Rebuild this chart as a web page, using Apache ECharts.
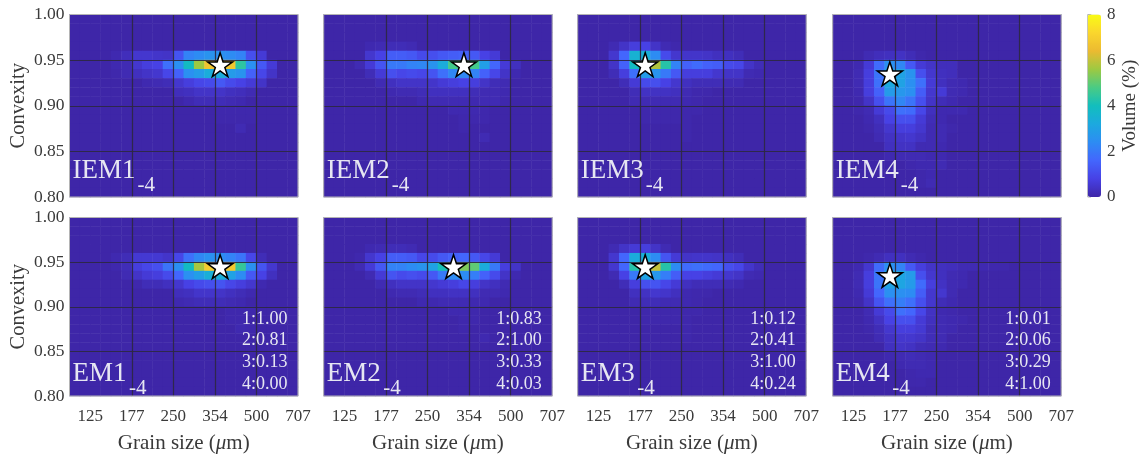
<!DOCTYPE html>
<html>
<head>
<meta charset="utf-8">
<style>html,body{margin:0;padding:0;background:#fff}#c{width:1140px;height:455px;filter:blur(0.45px)}</style>
<script src="https://cdn.jsdelivr.net/npm/echarts@6/dist/echarts.min.js"></script>
</head>
<body>
<div id="c"></div>
<script>
// Each row entry: [row counted from the top (0 = convexity 0.99-1.00), first size bin, volumes in %]
const IEM1 = [
 [4,4,[.1,.25,.5,.5,.45,.4,1.2,2.2,2.4,2.6,2.5,2.4,2.2,1.1,.6]],
 [5,4,[.1,.15,.5,.7,.8,1.8,2.5,3.9,5.6,6.7,7,6.8,4.4,2.5,1.3,.6]],
 [6,4,[.05,.15,.3,.4,.5,.9,1.5,2.5,2.8,3.3,3.3,2.8,2.6,1.5,.9,.4]],
 [7,7,[.1,.15,.2,.5,.7,.9,1,1.3,1,.8,.6,.4]],
 [8,10,[.25,.3,.4,.4,.4,.3,.25,.15]],
 [9,11,[.1,.2,.2,.2,.15,.1]],
 [10,14,[.07,.07,.07,.07]],
 [11,14,[.05,.05,.05,.05]],
 [12,16,[.15]]
];
const IEM2 = [
 [3,4,[.1,.15,.2,.2,.15]],
 [4,4,[.5,.8,1.4,1.4,1.3,1,1.1,1.3,1.4,1.5,1.3,.8,.6]],
 [5,3,[.15,.6,1.2,2,2,2.2,2.3,2.6,3.3,4.7,5,4.7,2.9,1.6,.6,.3]],
 [6,4,[.2,.6,1.1,.9,1,.9,1.2,1.8,2.3,2.3,2.2,1.5,.9,.4,.1]],
 [7,5,[.15,.3,.4,.4,.4,.45,.6,.7,.8,.7,.4,.2,.15]],
 [8,6,[.1,.15,.15,.2,.3,.3,.3,.3,.2,.15,.15,.1]],
 [9,9,[.1,.15,.15,.15,.15,.1,.15,.15,.07]],
 [10,12,[.1,.1,.1,.07]],
 [11,13,[.07,.07,.07]],
 [12,13,[.05]],
 [13,15,[.15]]
];
const IEM3 = [
 [3,3,[.15,.4,.7,.8,.4,.15,.07]],
 [4,3,[.5,1.6,3.5,3.4,2.4,1,.5,.45,.45,.4,.3,.3,.2]],
 [5,3,[.4,1.5,3.9,5,5.8,4.3,2.2,1.5,1.7,1.5,1.4,1,.9,.4,.2]],
 [6,3,[.2,.7,1.8,2.8,2.6,2,1.3,.7,.7,.7,.5,.4,.4,.15,.1]],
 [7,4,[.2,.6,1,1.1,.8,.5,.3,.2,.2,.2,.15,.15]],
 [8,5,[.2,.35,.35,.35,.3,.15,.07,.05]],
 [9,5,[.15,.15,.15,.15,.15,.1,.05]],
 [10,6,[.05,.05,.05,.05,.05,.05]],
 [11,6,[.05,.05,.05,.05,.05]],
 [12,10,[.05]],
 [13,10,[.05]]
];
const IEM4 = [
 [4,3,[.15,.25,.3,.35,.2,.05]],
 [5,2,[.1,.6,1.7,2.5,2.3,1.3,.6,.4,.25,.25]],
 [6,2,[.15,.7,1.9,3,3,2.6,1.1,.5,.3,.25]],
 [7,2,[.15,.7,1.8,3.2,3,2.5,1.8,.6,.3,.15,.1]],
 [8,2,[.1,.7,1.5,2.8,2.7,2.5,1.4,.5,.6,.15,.1]],
 [9,2,[.05,.4,1.1,1.9,2.3,1.9,1.1,.4,.2,.1]],
 [10,2,[.05,.15,.6,1,1.8,1.7,.9,.3,.1,.1,.1]],
 [11,3,[.1,.3,.8,1.1,1.1,.6,.2,.1]],
 [12,3,[.05,.2,.5,.7,.7,.5,.15,.15,.05]],
 [13,4,[.15,.35,.45,.5,.35,.15,.15]],
 [14,5,[.3,.35,.35,.15,.15,.1]],
 [15,5,[.1,.15,.15,.15,.1,.1]],
 [16,7,[.07,.1,.1,.15]],
 [17,8,[.05,.1]],
 [18,8,[.05,.15]]
];
const EM1 = [
 [4,4,[.1,.2,.55,.55,.55,.45,.9,1.8,2.3,2.5,2.4,2.2,1.9,.9,.2]],
 [5,4,[.07,.2,.7,.9,1.1,1.9,2.5,3.9,5.7,6.9,7,6.8,4.5,2.5,1.2,.5]],
 [6,5,[.15,.4,.6,.7,1,1.6,2.5,2.9,3.4,3.4,3,2.4,1.3,.8,.3]],
 [7,6,[.07,.2,.2,.3,.5,.8,1,1.1,1.2,.9,.7,.5,.1]],
 [8,10,[.25,.3,.45,.45,.4,.3,.2,.1]],
 [9,10,[.1,.15,.2,.2,.2,.15,.1]],
 [10,15,[.07,.07,.07]],
 [11,15,[.07,.07]],
 [12,16,[.1,.07]]
];
const EM2 = [
 [3,4,[.1,.15,.2,.2,.15]],
 [4,3,[.07,.5,.8,1.4,1.4,1.3,.9,1,1.3,1.5,1.6,1.3,.9,.6]],
 [5,3,[.15,.6,1.3,2.2,2.2,2.4,2.6,3,4.1,5.3,5.3,5,3.3,2,.7,.4]],
 [6,4,[.15,.6,1.2,1,1.1,1,1.3,2,2.4,2.4,2.1,1.5,1,.4,.1]],
 [7,5,[.15,.3,.4,.4,.4,.5,.6,.7,.9,.7,.4,.3,.15]],
 [8,6,[.1,.15,.15,.2,.3,.3,.35,.35,.3,.15,.15,.1]],
 [9,9,[.1,.1,.15,.15,.15,.1,.1]],
 [10,12,[.1,.1,.07]],
 [11,13,[.07,.07]],
 [12,13,[.05]],
 [13,15,[.1]]
];
const EM3 = [
 [3,3,[.15,.4,.6,.7,.4,.15]],
 [4,3,[.5,1.6,3.3,3.4,2.4,1.2,.6,.4,.45,.45,.4,.3,.2]],
 [5,3,[.5,1.6,4.3,5.4,6,4.3,2.4,1.7,1.8,1.7,1.6,1.1,.9,.45,.2]],
 [6,3,[.15,.8,2,3,2.7,2.1,1.4,.8,.8,.7,.6,.5,.4,.15,.1]],
 [7,4,[.2,.7,1.1,1.2,.9,.6,.3,.2,.2,.2,.15,.1]],
 [8,5,[.3,.35,.5,.45,.3,.1,.07,.05]],
 [9,5,[.15,.2,.2,.15,.15,.1,.05]],
 [10,6,[.05,.05,.05,.05,.05,.05]],
 [11,6,[.05,.05,.05,.05,.05]],
 [12,10,[.05]],
 [13,10,[.05]]
];
const EM4 = [
 [4,3,[.05,.15,.3,.3,.15,.07]],
 [5,2,[.1,.5,1.7,2.5,2.2,1.3,.7,.4,.3,.25,.15,.15,.1,.07,.05]],
 [6,2,[.15,.7,1.9,3.2,3.1,2.8,1.1,.5,.3,.15,.1]],
 [7,2,[.15,.7,1.9,3,3.1,2.8,1.7,.7,.35,.15,.1]],
 [8,2,[.1,.6,1.6,2.5,2.5,2.4,1.4,.5,.5,.15]],
 [9,2,[.05,.4,1.2,1.8,2.1,1.8,1.1,.5,.2,.1]],
 [10,3,[.15,.6,1,1.8,1.6,.9,.35,.1,.07]],
 [11,3,[.1,.35,.8,1.1,1.1,.6,.3,.15,.1,.07]],
 [12,3,[.05,.2,.5,.7,.7,.55,.2,.15,.1]],
 [13,4,[.15,.35,.5,.5,.4,.2,.15]],
 [14,5,[.3,.4,.35,.2,.15,.1]],
 [15,5,[.1,.15,.2,.15,.1]],
 [16,6,[.1,.15,.15,.1]],
 [17,7,[.07,.1,.1]],
 [18,7,[.05,.07]]
];
const panelData = [IEM1, IEM2, IEM3, IEM4, EM1, EM2, EM3, EM4];
const panelNames = ['IEM1','IEM2','IEM3','IEM4','EM1','EM2','EM3','EM4'];
const subscript = '-4';
const starBins = [14.5, 13.5, 6.5, 5.5, 14.5, 12.5, 6.5, 5.5];
const starConvexity = [0.945, 0.945, 0.945, 0.935, 0.945, 0.945, 0.945, 0.935];
const ratioLines = [
 null, null, null, null,
 ['1:1.00','2:0.81','3:0.13','4:0.00'],
 ['1:0.83','2:1.00','3:0.33','4:0.03'],
 ['1:0.12','2:0.41','3:1.00','4:0.24'],
 ['1:0.01','2:0.06','3:0.29','4:1.00']
];
const sizeBinCount = 22, convexityBinCount = 20;
const xTickBins = [2, 6, 10, 14, 18, 22];
const xTickLabels = ['125','177','250','354','500','707'];
const parula = ['#3e26a8','#4741e5','#4366fd','#2d8cf3','#1ca9df','#12bebd','#4acb84','#9dc942','#ebba31','#fad62d','#f9fb15'];

const serif = '"Liberation Serif","Times New Roman",serif';
const ink = '#3a3a3a', paleText = '#e6e6f2', gridInk = 'rgba(44,40,64,0.9)', frame = '#b4b4b4';
const lefts = [69.5, 323.7, 577.7, 832.7], tops = [14.5, 217.5], W = 228.5, H = 182.5;
const starPath = 'path://M0,-100L22.45,-30.9L95.1,-30.9L36.3,11.8L58.8,80.9L0,38.2L-58.8,80.9L-36.3,11.8L-95.1,-30.9L-22.45,-30.9Z';

const grids = [], xAxes = [], yAxes = [], series = [], graphics = [];
panelData.forEach((rows, p) => {
  const col = p % 4, row = p < 4 ? 0 : 1;
  const L = lefts[col], T = tops[row];
  grids.push({left: L, top: T, width: W, height: H, show: true, z: 4, borderColor: frame, borderWidth: 1, backgroundColor: 'transparent'});
  // hidden category axes carry the cells, visible value axes carry ticks and lines
  xAxes.push({gridIndex: p, type: 'category', show: false, data: Array.from({length: sizeBinCount}, (_, i) => i)});
  yAxes.push({gridIndex: p, type: 'category', show: false, data: Array.from({length: convexityBinCount}, (_, i) => i)});
  xAxes.push({
    gridIndex: p, type: 'value', min: 0, max: sizeBinCount, z: 3, position: 'bottom',
    axisLine: {show: false},
    axisTick: {show: false, customValues: xTickBins},
    splitLine: {show: true, showMinLine: false, showMaxLine: false, lineStyle: {color: gridInk, width: 1.2}},
    axisLabel: {show: row === 1, customValues: xTickBins, margin: 12, color: ink, fontFamily: serif, fontSize: 17,
      formatter: v => xTickLabels[xTickBins.indexOf(v)]},
    name: row === 1 ? '{a|Grain size (}{b|\u03bc}{a|m)}' : '', nameLocation: 'middle', nameGap: 37,
    nameTextStyle: {rich: {a: {fontFamily: serif, fontSize: 21, color: ink}, b: {fontFamily: serif, fontStyle: 'italic', fontSize: 21, color: ink}}}
  });
  yAxes.push({
    gridIndex: p, type: 'value', min: 0.8, max: 1, interval: 0.05, z: 3, position: 'left',
    axisLine: {show: false}, axisTick: {show: false},
    splitLine: {show: true, showMinLine: false, showMaxLine: false, lineStyle: {color: gridInk, width: 1.2}},
    axisLabel: {show: col === 0, margin: 5, padding: [2, 0, 0, 0], color: ink, fontFamily: serif, fontSize: 17.5, formatter: v => v.toFixed(2)},
    name: col === 0 ? 'Convexity' : '', nameLocation: 'middle', nameGap: 40, nameRotate: 90,
    nameTextStyle: {fontFamily: serif, fontSize: 20.5, color: ink}
  });
  const xCat = p * 2, xVal = p * 2 + 1, yCat = p * 2, yVal = p * 2 + 1;
  const cells = new Map();
  rows.forEach(([r, c0, vals]) => vals.forEach((v, i) => cells.set(r + ',' + (c0 + i), v)));
  const data = [];
  for (let r = 0; r < convexityBinCount; r++) for (let c = 0; c < sizeBinCount; c++)
    data.push([c, convexityBinCount - 1 - r, cells.get(r + ',' + c) || 0]);
  series.push({type: 'heatmap', xAxisIndex: xCat, yAxisIndex: yCat, data, z: 2, progressive: 0, silent: true, animation: false});
  series.push({type: 'scatter', xAxisIndex: xVal, yAxisIndex: yVal, data: [[starBins[p], starConvexity[p]]], z: 6, silent: true,
    symbol: starPath, symbolSize: 25, symbolKeepAspect: true,
    itemStyle: {color: '#fff', borderColor: '#000', borderWidth: 1.5, opacity: 1}, animation: false});
  // panel label and its subscript
  const name = panelNames[p];
  const mainWidth = name.startsWith('I') ? 66 : 57.5;
  graphics.push({type: 'text', z: 10, x: L + 3, y: T + 143, style: {text: name, font: '27px ' + serif, fill: paleText}});
  graphics.push({type: 'text', z: 10, x: L + mainWidth + 2, y: T + 160, style: {text: subscript, font: '21px ' + serif, fill: paleText}});
  if (ratioLines[p]) ratioLines[p].forEach((t, i) => {
    graphics.push({type: 'text', z: 10, x: L + 218, y: T + 92.5 + i * 21.6,
      style: {text: t, font: '18px ' + serif, fill: paleText, align: 'right'}});
  });
});

// colour bar axis
const cb = panelData.length;
grids.push({left: 1087.7, top: 14.5, width: 13.3, height: H, show: true, z: 4, borderColor: frame, borderWidth: 1, backgroundColor: 'transparent'});
xAxes.push({gridIndex: cb, type: 'value', show: false, min: 0, max: 1});
yAxes.push({gridIndex: cb, type: 'value', min: 0, max: 8, interval: 2, position: 'right',
  axisLine: {show: false, onZero: false}, axisTick: {show: false}, splitLine: {show: false},
  axisLabel: {margin: 16, align: 'left', color: ink, fontFamily: serif, fontSize: 17, padding: [2, 0, 0, 0]},
  name: 'Volume (%)', nameLocation: 'middle', nameGap: 29, nameRotate: 90,
  nameTextStyle: {fontFamily: serif, fontSize: 19, color: ink}});

const chart = echarts.init(document.getElementById('c'), null, {renderer: 'canvas'});
chart.setOption({
  animation: false,
  backgroundColor: '#fff',
  grid: grids, xAxis: xAxes, yAxis: yAxes, series,
  visualMap: {
    type: 'continuous', min: 0, max: 8, dimension: 2, calculable: false, realtime: false, hoverLink: false,
    seriesIndex: panelData.map((_, i) => i * 2),
    left: 1087.7, top: 14.5, itemWidth: 13.3, itemHeight: H, padding: 0, text: null, showLabel: false,
    textStyle: {color: 'transparent', fontSize: 1},
    inRange: {color: parula}
  },
  graphic: {elements: graphics}
});
</script>
</body>
</html>
